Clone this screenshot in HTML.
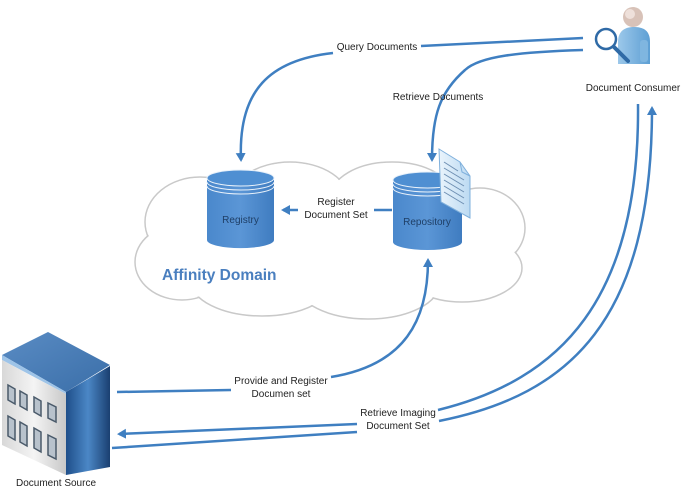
<!DOCTYPE html>
<html><head><meta charset="utf-8"><style>
html,body{margin:0;padding:0;background:#fff;}
svg{display:block;font-family:"Liberation Sans",sans-serif;}
</style></head><body>
<svg width="685" height="490" viewBox="0 0 685 490" xmlns="http://www.w3.org/2000/svg">
<defs>
<marker id="ah" markerWidth="10" markerHeight="10" refX="7" refY="5" orient="auto" markerUnits="userSpaceOnUse"><path d="M0,0 L9,5 L0,10 Z" fill="#3f7fc1"/></marker>
<linearGradient id="cyl" x1="0" x2="1"><stop offset="0" stop-color="#4a88cc"/><stop offset="0.5" stop-color="#5b96d6"/><stop offset="1" stop-color="#3f7cc0"/></linearGradient>
<linearGradient id="bfront" x1="0" x2="1"><stop offset="0" stop-color="#d8d8d8"/><stop offset="0.5" stop-color="#f4f4f4"/><stop offset="1" stop-color="#c8c8c8"/></linearGradient>
<linearGradient id="bside" x1="0" x2="1"><stop offset="0" stop-color="#1f4f8a"/><stop offset="0.5" stop-color="#4b87c6"/><stop offset="1" stop-color="#1a3f70"/></linearGradient>
<linearGradient id="btop" x1="0" y1="0" x2="1" y2="1"><stop offset="0" stop-color="#5a8cc4"/><stop offset="1" stop-color="#3a6ea8"/></linearGradient>
<linearGradient id="body" x1="0" x2="1"><stop offset="0" stop-color="#9cc8ea"/><stop offset="1" stop-color="#5d9fd4"/></linearGradient>
<linearGradient id="doc" x1="0" x2="1"><stop offset="0" stop-color="#eaf4fc"/><stop offset="1" stop-color="#bcdaf2"/></linearGradient>
</defs>

<g stroke="#c9c9c9" stroke-width="1.5" fill="#fff">
<ellipse cx="200" cy="222" rx="55" ry="45"/>
<ellipse cx="290" cy="202" rx="60" ry="40"/>
<ellipse cx="392" cy="198" rx="62" ry="36"/>
<ellipse cx="480" cy="228" rx="45" ry="40"/>
<ellipse cx="182" cy="262" rx="47" ry="38"/>
<ellipse cx="262" cy="280" rx="72" ry="36"/>
<ellipse cx="368" cy="283" rx="72" ry="36"/>
<ellipse cx="462" cy="268" rx="60" ry="34"/>
</g>
<g fill="#fff">
<ellipse cx="200" cy="222" rx="54" ry="44"/>
<ellipse cx="290" cy="202" rx="59" ry="39"/>
<ellipse cx="392" cy="198" rx="61" ry="35"/>
<ellipse cx="480" cy="228" rx="44" ry="39"/>
<ellipse cx="182" cy="262" rx="46" ry="37"/>
<ellipse cx="262" cy="280" rx="71" ry="35"/>
<ellipse cx="368" cy="283" rx="71" ry="35"/>
<ellipse cx="462" cy="268" rx="59" ry="33"/>
<ellipse cx="330" cy="240" rx="150" ry="60"/>
</g>
<text x="162" y="280" font-size="15.5" font-weight="bold" fill="#4a7fbf">Affinity Domain</text>

<path d="M207,178 L207,240 A33,8 0 0 0 274,240 L274,178 Z" fill="url(#cyl)"/>
<ellipse cx="240.5" cy="178" rx="33.5" ry="8" fill="#4f8fd2" stroke="#e8f1fa" stroke-width="1"/>
<path d="M207,182 A33.5,8 0 0 0 274,182 M207,186 A33.5,8 0 0 0 274,186" fill="none" stroke="#e8f1fa" stroke-width="1"/>
<text x="240.5" y="223" font-size="10" fill="#1f3f66" text-anchor="middle">Registry</text>

<path d="M393,180 L393,242 A34.5,8 0 0 0 462,242 L462,180 Z" fill="url(#cyl)"/>
<ellipse cx="427.5" cy="180" rx="34.5" ry="8" fill="#4f8fd2" stroke="#e8f1fa" stroke-width="1"/>
<path d="M393,184 A34.5,8 0 0 0 462,184 M393,188 A34.5,8 0 0 0 462,188" fill="none" stroke="#e8f1fa" stroke-width="1"/>
<text x="427" y="225" font-size="10" fill="#1f3f66" text-anchor="middle">Repository</text>
<path d="M439,149 L460,162 L470,176 L470,218 L441,202 Z" fill="url(#doc)" stroke="#7fb0dc" stroke-width="1"/>
<path d="M460,162 L462,172 L470,176" fill="none" stroke="#7fb0dc"/>
<g stroke="#6e8fb2" stroke-width="1">
<line x1="444" y1="162" x2="458" y2="171"/><line x1="444" y1="168" x2="464" y2="180"/><line x1="444" y1="174" x2="464" y2="186"/><line x1="444" y1="180" x2="464" y2="192"/><line x1="444" y1="186" x2="464" y2="198"/><line x1="444" y1="192" x2="464" y2="204"/>
</g>

<g fill="none" stroke="#3f7fc1" stroke-width="2.5">
<path d="M583,38 L421,46"/>
<path d="M333,53 C270,60 238,90 241,160" marker-end="url(#ah)"/>
<path d="M583,50 C520,52 480,56 465,70 C440,92 432,115 432,160" marker-end="url(#ah)"/>
<path d="M392,210 L374,210"/>
<path d="M298,210 L283,210" marker-end="url(#ah)"/>
<path d="M117,392 L231,390"/>
<path d="M331,377 C405,365 428,320 428,260" marker-end="url(#ah)"/>
<path d="M638,104 C640,300 560,380 438,410"/>
<path d="M439,421 C570,395 652,320 652,108" marker-end="url(#ah)"/>
<path d="M357,424 L119,434" marker-end="url(#ah)"/>
<path d="M357,432 L112,448"/>
</g>

<g font-size="10" fill="#222" text-anchor="middle">
<text x="377" y="50">Query Documents</text>
<text x="438" y="100">Retrieve Documents</text>
<text x="336" y="205">Register</text>
<text x="336" y="218">Document Set</text>
<text x="281" y="384">Provide and Register</text>
<text x="281" y="397">Documen set</text>
<text x="398" y="416">Retrieve Imaging</text>
<text x="398" y="429">Document Set</text>
<text x="633" y="91">Document Consumer</text>
<text x="56" y="486">Document Source</text>
</g>

<path d="M618,64 L618,42 C618,30 626,27 634,27 C644,27 650,31 650,42 L650,64 Z" fill="url(#body)"/>
<rect x="640" y="40" width="8" height="22" rx="3" fill="#7fb6e0"/>
<circle cx="633" cy="17" r="10" fill="#d8c2b8"/>
<circle cx="630" cy="14" r="5" fill="#eee0da"/>
<line x1="614" y1="47" x2="628" y2="61" stroke="#2f6aa6" stroke-width="4" stroke-linecap="round"/>
<circle cx="606" cy="39" r="10" fill="none" stroke="#2f6aa6" stroke-width="2.5"/>

<polygon points="2,355 48,332 110,365 66,392" fill="url(#btop)"/>
<polygon points="2,355 66,392 66,394 2,360" fill="#9ec4e8"/>
<polygon points="66,392 110,366 110,467 66,475" fill="url(#bside)"/>
<polygon points="2,360 66,394 66,475 2,445" fill="url(#bfront)"/>
<g fill="#b8c2cc" stroke="#4a5a6a" stroke-width="1.5">
<polygon points="8,385 15,389 15,404 8,400"/>
<polygon points="20,391 27,395 27,410 20,406"/>
<polygon points="34,397 41,401 41,416 34,412"/>
<polygon points="48,403 56,407 56,422 48,418"/>
<polygon points="8,416 15,420 15,440 8,436"/>
<polygon points="20,422 27,426 27,446 20,442"/>
<polygon points="34,428 41,432 41,452 34,448"/>
<polygon points="48,435 56,439 56,459 48,455"/>
</g>
</svg>
</body></html>
